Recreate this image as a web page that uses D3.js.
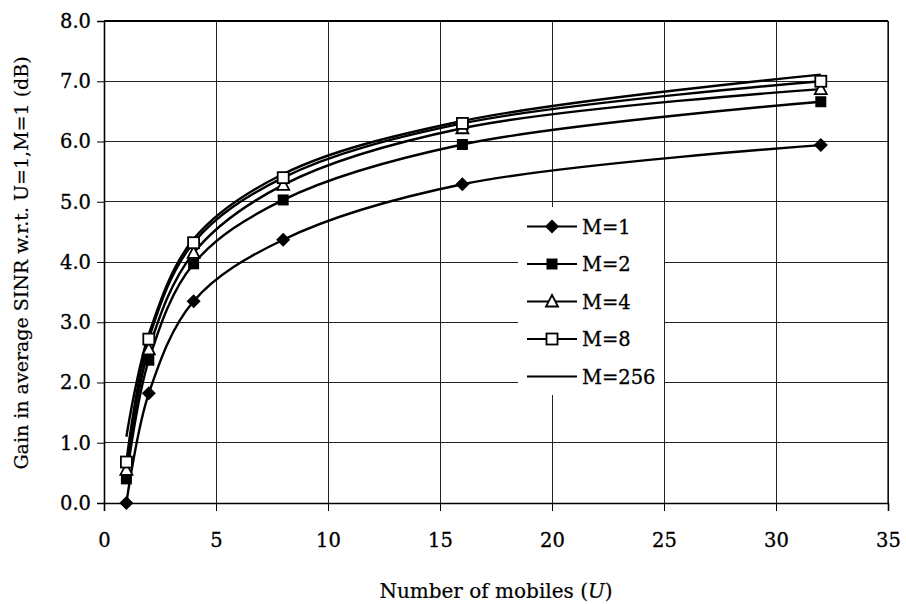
<!DOCTYPE html>
<html>
<head>
<meta charset="utf-8">
<script src="https://cdn.jsdelivr.net/npm/d3@7"></script>
<style>
  html, body { margin: 0; padding: 0; background: #fff; }
  svg { display: block; }
  text { fill: #000; }
</style>
</head>
<body>
<svg id="chart" width="906" height="604"></svg>
<script>
// Number of mobiles U at which each configuration was evaluated
const users = [1, 2, 4, 8, 16, 32];

// Gain in average SINR (dB) relative to U=1, M=1
const gainM1   = [0.00, 1.82, 3.35, 4.37, 5.29, 5.94];
const gainM2   = [0.40, 2.37, 3.97, 5.03, 5.95, 6.66];
const gainM4   = [0.55, 2.55, 4.15, 5.28, 6.22, 6.87];
const gainM8   = [0.68, 2.72, 4.32, 5.40, 6.30, 7.00];
const gainM256 = [1.10, 2.80, 4.38, 5.46, 6.34, 7.11];

const seriesNames = ["M=1", "M=2", "M=4", "M=8", "M=256"];
const seriesMarkers = ["diamond", "filledSquare", "triangle", "openSquare", "none"];
const seriesValues = [gainM1, gainM2, gainM4, gainM8, gainM256];

const xTicks = [0, 5, 10, 15, 20, 25, 30, 35];
const yTicks = [0, 1, 2, 3, 4, 5, 6, 7, 8];

const xTitle = "Number of mobiles (";
const xTitleItalic = "U";
const yTitle = "Gain in average SINR w.r.t. U=1,M=1 (dB)";

const svg = d3.select("#chart");
const W = 906, H = 604;
const margin = { top: 21, right: 18, bottom: 101, left: 104 };
const iw = W - margin.left - margin.right;
const ih = H - margin.top - margin.bottom;

const x = d3.scaleLinear().domain([0, 35]).range([0, iw]);
const y = d3.scaleLinear().domain([0, 8]).range([ih, 0]);

const g = svg.append("g").attr("transform", `translate(${margin.left},${margin.top})`);

const serif = "'DejaVu Serif', serif";

// Grid
g.append("g").selectAll("line").data(xTicks).join("line")
  .attr("x1", d => x(d)).attr("x2", d => x(d))
  .attr("y1", 0).attr("y2", ih)
  .attr("stroke", "#222").attr("stroke-width", 1).attr("shape-rendering", "crispEdges");
g.append("g").selectAll("line").data(yTicks).join("line")
  .attr("x1", 0).attr("x2", iw)
  .attr("y1", d => y(d)).attr("y2", d => y(d))
  .attr("stroke", "#222").attr("stroke-width", 1).attr("shape-rendering", "crispEdges");

// Axes
const xAxis = d3.axisBottom(x).tickValues(xTicks).tickSize(8).tickPadding(22).tickFormat(d3.format("d"));
const yAxis = d3.axisLeft(y).tickValues(yTicks).tickSize(7).tickPadding(6).tickFormat(d3.format(".1f"));

const gx = g.append("g").attr("transform", `translate(0,${ih})`).call(xAxis);
const gy = g.append("g").call(yAxis);
[gx, gy].forEach(a => {
  a.select(".domain").attr("stroke", "#000").attr("stroke-width", 1.6);
  a.selectAll(".tick line").attr("stroke", "#000").attr("stroke-width", 1);
  a.selectAll(".tick text")
    .attr("font-family", serif).attr("font-size", 19.5).attr("fill", "#000")
    .attr("stroke", "#000").attr("stroke-width", 0.3);
});

// Frame top and right edges
g.append("line").attr("x1", 0).attr("x2", iw).attr("y1", 0).attr("y2", 0)
  .attr("stroke", "#000").attr("stroke-width", 1.8);
g.append("line").attr("x1", iw).attr("x2", iw).attr("y1", 0).attr("y2", ih)
  .attr("stroke", "#000").attr("stroke-width", 1.2);

// Legend background clears the grid beneath it
const legend = { x: 414, y: 186, w: 146, h: 188 };
g.append("rect")
  .attr("x", legend.x).attr("y", legend.y)
  .attr("width", legend.w).attr("height", legend.h)
  .attr("fill", "#fff");

// Curves
const line = d3.line()
  .x((d, i) => x(users[i]))
  .y(d => y(d))
  .curve(d3.curveCatmullRom.alpha(0.5));

function drawMarker(sel, type, cx, cy) {
  if (type === "diamond") {
    sel.append("path")
      .attr("d", `M${cx},${cy - 7}L${cx + 7},${cy}L${cx},${cy + 7}L${cx - 7},${cy}Z`)
      .attr("fill", "#000");
  } else if (type === "filledSquare") {
    sel.append("rect").attr("x", cx - 5.5).attr("y", cy - 5.5).attr("width", 11).attr("height", 11)
      .attr("fill", "#000");
  } else if (type === "triangle") {
    sel.append("path")
      .attr("d", `M${cx},${cy - 6.5}L${cx + 6},${cy + 5}L${cx - 6},${cy + 5}Z`)
      .attr("fill", "#fff").attr("stroke", "#000").attr("stroke-width", 1.8);
  } else if (type === "openSquare") {
    sel.append("rect").attr("x", cx - 5.5).attr("y", cy - 5.5).attr("width", 11).attr("height", 11)
      .attr("fill", "#fff").attr("stroke", "#000").attr("stroke-width", 1.8);
  }
}

// Draw M=256 first, then the marked series on top
const order = [4, 0, 1, 2, 3];
order.forEach(k => {
  g.append("path")
    .datum(seriesValues[k])
    .attr("d", line)
    .attr("fill", "none")
    .attr("stroke", "#000")
    .attr("stroke-width", 2.4);
});
order.forEach(k => {
  const mg = g.append("g");
  seriesValues[k].forEach((v, i) => drawMarker(mg, seriesMarkers[k], x(users[i]), y(v)));
});

// Legend entries
const lg = g.append("g");
seriesNames.forEach((name, k) => {
  const ly = 205.5 + k * 37.5;
  const lx0 = 423, lx1 = 473;
  lg.append("line").attr("x1", lx0).attr("x2", lx1).attr("y1", ly).attr("y2", ly)
    .attr("stroke", "#000").attr("stroke-width", k === 4 ? 1.8 : 2.2);
  drawMarker(lg, seriesMarkers[k], (lx0 + lx1) / 2, ly);
  lg.append("text")
    .attr("x", 478).attr("y", ly + 7)
    .attr("font-family", serif).attr("font-size", 19.5)
    .attr("stroke", "#000").attr("stroke-width", 0.3)
    .text(name);
});

// Axis titles
const xt = svg.append("text")
  .attr("x", margin.left + iw / 2)
  .attr("y", 598)
  .attr("text-anchor", "middle")
  .attr("font-family", serif)
  .attr("font-size", 20)
  .attr("stroke", "#000").attr("stroke-width", 0.2);
xt.append("tspan").text(xTitle);
xt.append("tspan").attr("font-style", "italic").text(xTitleItalic);
xt.append("tspan").text(")");

svg.append("text")
  .attr("transform", `translate(28,${margin.top + ih / 2 + 1}) rotate(-90)`)
  .attr("text-anchor", "middle")
  .attr("font-family", serif)
  .attr("font-size", 19)
  .attr("stroke", "#000").attr("stroke-width", 0.2)
  .text(yTitle);
</script>
</body>
</html>
